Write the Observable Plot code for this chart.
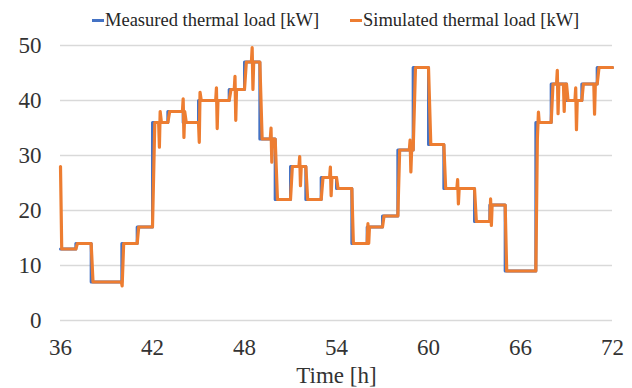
<!DOCTYPE html>
<html>
<head>
<meta charset="utf-8">
<script src="https://cdn.jsdelivr.net/npm/d3@7"></script>
<script src="https://cdn.jsdelivr.net/npm/@observablehq/plot@0.6"></script>
<style>
  html, body { margin: 0; padding: 0; background: #fff; }
  #wrap { position: relative; width: 632px; height: 388px; overflow: hidden; font-family: "Times New Roman", "Liberation Serif", Times, "DejaVu Serif", serif; }
  #legend { position: absolute; left: 0; top: 0; width: 632px; height: 36px; font-size: 18.5px; color: #262626; z-index: 2; }
  .item { position: absolute; top: 10px; display: flex; align-items: center; white-space: nowrap; }
  .sw { width: 12px; height: 3px; display: inline-block; margin-right: 1px; }
  #chart svg, #chart svg text { font-family: "Times New Roman", "Liberation Serif", Times, "DejaVu Serif", serif !important; font-variant: normal !important; font-variant-numeric: normal !important; }
</style>
</head>
<body>
<div id="wrap">
  <div id="legend"></div>
  <div id="chart"></div>
</div>
<script>
const seriesNames = ["Measured thermal load [kW]", "Simulated thermal load [kW]"];
const seriesColors = ["#4472C4", "#ED7D31"];
const xTicks = [36, 42, 48, 54, 60, 66, 72];
const yTicks = [0, 10, 20, 30, 40, 50];
const xLabel = "Time [h]";
const serif = "Times New Roman, Liberation Serif, serif";

// Measured: step changes (value holds until next time)
const measuredTime = [36,37,38,40,41,42,43,44,45,47,48,49,50,51,52,53,54,55,56,57,58,59,60,61,63,64,65,67,68,69,70,71,72];
const measuredLoad = [13,14,7,14,17,36,38,36,40,42,47,33,22,28,22,26,24,14,17,19,31,46,32,24,18,21,9,36,43,40,43,46,46];

// Simulated: points
const simTime = [36,36.08,37,37.1,38,38.12,39.97,40.02,40.12,41,41.1,42,42.15,42.4,42.45,42.5,42.58,43,43.12,43.95,44.0,44.05,44.1,44.2,45,45.05,45.1,45.18,46.12,46.17,46.22,46.27,47,47.12,47.33,47.38,47.43,47.48,48,48.12,48.45,48.5,48.55,48.6,49,49.15,49.68,49.73,49.78,49.83,50,50.15,51,51.12,51.55,51.6,51.65,51.7,52,52.12,53,53.12,53.55,53.6,53.65,53.7,54,54.1,55,55.1,56,56.05,56.1,56.15,57,57.1,58,58.12,58.75,58.8,58.85,58.9,59,59.15,60,60.15,61,61.12,61.85,61.9,61.95,62,63,63.12,64,64.05,64.1,64.15,65,65.1,67,67.1,67.17,67.22,68,68.12,68.35,68.4,68.45,68.5,68.8,68.85,68.9,69,69.1,69.55,69.6,69.65,69.7,70,70.1,70.78,70.83,70.88,71,71.12,72];
const simLoad = [28,13,13,14,14,7,7,6.3,14,14,17,17,36,36,31.5,38,36,36,38,38,40.3,33.3,38,36,36,32.4,41.5,40,40,42.3,34.9,40,40,42,42,44.4,36.4,42,42,47,47,49.6,42,47,47,33,33,35,28.8,33,33,22,22,28,28,29.8,24.5,28,28,22,22,26,26,27.9,22.7,26,26,24,24,14,14,17.6,14,17,17,19,19,31,31,32.8,27,31,31,46,46,32,32,24,24,25.6,21.2,24,24,18,18,22.1,17.3,21,21,9,9,33,37.9,36,36,43,43,45.5,37.6,43,43,38,43,43,40,40,42.3,34.7,40,40,43,43,37.5,43,43,46,46];

const measured = measuredTime.map((t, i) => ({t, v: measuredLoad[i]}));
const simulated = simTime.map((t, i) => ({t, v: simLoad[i]}));

// Legend
const legend = document.getElementById("legend");
const lx = [92, 350];
seriesNames.forEach((n, i) => {
  const d = document.createElement("div");
  d.className = "item";
  d.style.left = lx[i] + "px";
  d.innerHTML = `<span class="sw" style="background:${seriesColors[i]}"></span><span>${n}</span>`;
  legend.appendChild(d);
});

const chart = Plot.plot({
  width: 632,
  height: 388,
  marginLeft: 60,
  marginRight: 20,
  marginTop: 45,
  marginBottom: 68,
  style: { fontFamily: serif, fontSize: "23px", color: "#333333", background: "#fff" },
  x: { domain: [36, 72] },
  y: { domain: [0, 50] },
  marks: [
    Plot.gridY(yTicks, { stroke: "#d9d9d9", strokeOpacity: 1, strokeWidth: 1.5 }),
    Plot.axisY(yTicks, { tickSize: 0, tickPadding: 19, label: null, fontSize: 23, fontFamily: serif, fontVariant: "normal" }),
    Plot.axisX(xTicks, { tickSize: 0, tickPadding: 18, label: xLabel, labelAnchor: "center", labelArrow: "none", labelOffset: 62, fontSize: 23, fontFamily: serif, fontVariant: "normal" }),
    Plot.line(measured, { x: "t", y: "v", curve: "step-after", stroke: seriesColors[0], strokeWidth: 3 }),
    Plot.line(simulated, { x: "t", y: "v", stroke: seriesColors[1], strokeWidth: 3.2, strokeLinejoin: "round" })
  ]
});
document.getElementById("chart").appendChild(chart);
</script>
</body>
</html>
